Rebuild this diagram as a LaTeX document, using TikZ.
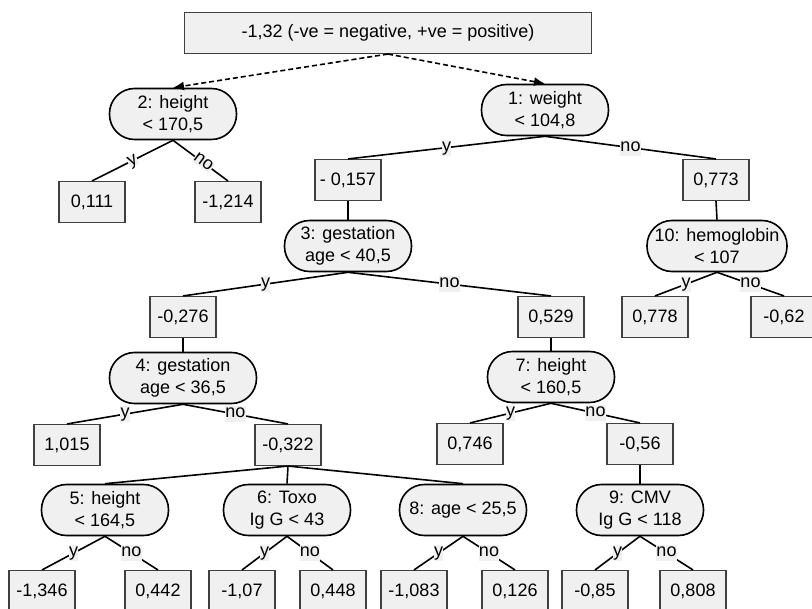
\documentclass[tikz,border=0pt]{standalone}
\usepackage{fontspec}
\setmainfont{Liberation Sans}
\usetikzlibrary{arrows.meta}
\definecolor{nodefill}{HTML}{F0F0F0}
\definecolor{boxline}{HTML}{404040}

\begin{document}
\begin{tikzpicture}[x=1pt,y=-1pt,thick,
        font=\fontsize{18}{22}\selectfont,
        split node/.style={draw,line width=1.6pt,fill=nodefill,rounded corners=25pt,
            minimum width=127pt,minimum height=51pt,inner sep=0pt,align=center},
        leaf node/.style={draw=boxline,line width=1.1pt,fill=nodefill,
            minimum width=66pt,minimum height=41pt,inner sep=0pt},
        edge label/.style={fill=nodefill,inner sep=0.4pt,text height=11pt,text depth=4pt}]

        \useasboundingbox (0,0) rectangle (812,609);

        % Define vertices
        \node[leaf node,minimum width=407pt] (0) at (388,33) {-1,32 (-ve = negative, +ve = positive)};
        \node[split node] (2) at (173,114) {2: height\\< 170,5};
        \node[split node] (1) at (545,110) {1: weight\\< 104,8};
        \node[leaf node] (2y) at (92,202) {0,111};
        \node[leaf node] (2n) at (228,202) {-1,214};
        \node[leaf node] (1y) at (348,180) {- 0,157};
        \node[leaf node] (1n) at (716,180) {0,773};
        \node[split node] (3) at (348,246) {3: gestation\\age < 40,5};
        \node[split node,minimum width=140pt] (10) at (717,246) {10: hemoglobin\\< 107};
        \node[leaf node] (3y) at (183,317) {-0,276};
        \node[leaf node] (3n) at (551,317) {0,529};
        \node[leaf node] (10y) at (655,317) {0,778};
        \node[leaf node] (10n) at (784,317) {-0,62};
        \node[split node,minimum width=147pt] (4) at (183,378) {4: gestation\\age < 36,5};
        \node[split node] (7) at (551,377) {7: height\\< 160,5};
        \node[leaf node] (4y) at (67,445) {1,015};
        \node[leaf node] (4n) at (288,445) {-0,322};
        \node[leaf node] (7y) at (470,444) {0,746};
        \node[leaf node] (7n) at (640,444) {-0,56};
        \node[split node] (5) at (105,510) {5: height\\< 164,5};
        \node[split node] (6) at (287,510) {6: Toxo\\Ig G < 43};
        \node[split node] (8) at (463,510) {8: age < 25,5};
        \node[split node] (9) at (640,510) {9: CMV\\Ig G < 118};
        \node[leaf node] (5y) at (42,591) {-1,346};
        \node[leaf node] (5n) at (158,591) {0,442};
        \node[leaf node] (6y) at (242,591) {-1,07};
        \node[leaf node] (6n) at (333,591) {0,448};
        \node[leaf node] (8y) at (414,591) {-1,083};
        \node[leaf node] (8n) at (515,591) {0,126};
        \node[leaf node] (9y) at (595,591) {-0,85};
        \node[leaf node] (9n) at (693,591) {0,808};

        % Draw edges
        \path[line width=1.6pt,dash pattern=on 5pt off 3pt,-{Latex[length=11pt,width=9pt]}]
            (0.south) edge (2.north)
            (0.south) edge (1.north);
        \path[line width=1.6pt,every node/.style={edge label}]
            (2.south) edge node[sloped,text height=9pt,text depth=1pt] {y} (2y.north)
            (2.south) edge node[sloped,text height=9pt,text depth=1pt,pos=0.55] {no} (2n.north)
            (1.south) edge node {y} (1y.north)
            (1.south) edge node {no} (1n.north)
            (1y.south) edge (3.north)
            (1n.south) edge (10.north)
            (3.south) edge node {y} (3y.north)
            (3.south) edge node {no} (3n.north)
            (10.south) edge node {y} (10y.north)
            (10.south) edge node {no} (10n.north)
            (3y.south) edge (4.north)
            (3n.south) edge (7.north)
            (4.south) edge node {y} (4y.north)
            (4.south) edge node {no} (4n.north)
            (7.south) edge node {y} (7y.north)
            (7.south) edge node {no} (7n.north)
            (4n.south) edge (5.north)
            (4n.south) edge (6.north)
            (4n.south) edge (8.north)
            (7n.south) edge (9.north)
            (5.south) edge node {y} (5y.north)
            (5.south) edge node {no} (5n.north)
            (6.south) edge node {y} (6y.north)
            (6.south) edge node {no} (6n.north)
            (8.south) edge node {y} (8y.north)
            (8.south) edge node {no} (8n.north)
            (9.south) edge node {y} (9y.north)
            (9.south) edge node {no} (9n.north);

        \end{tikzpicture}
\end{document}
